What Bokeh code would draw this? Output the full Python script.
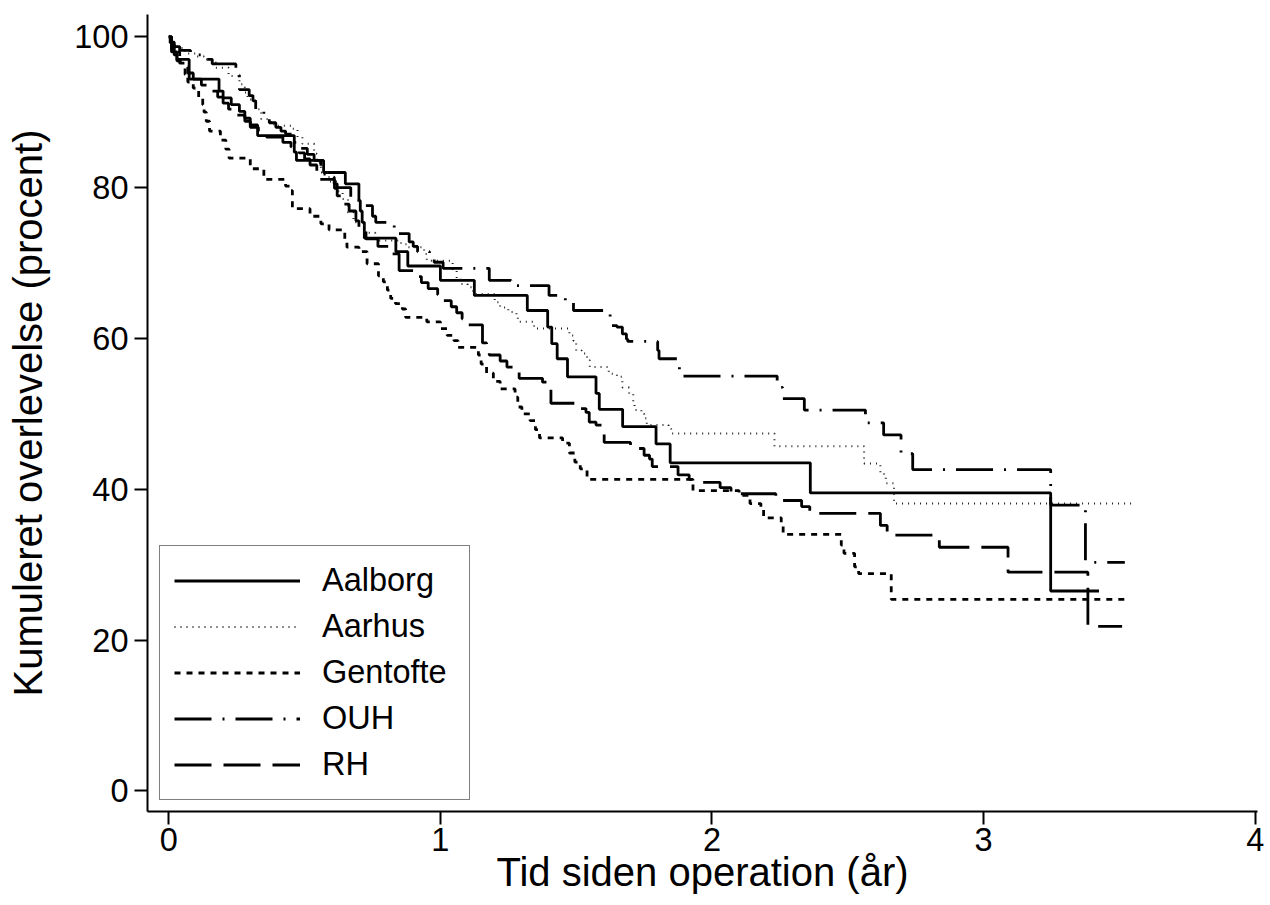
from bokeh.plotting import figure
from bokeh.models import Range1d, FixedTicker
from bokeh.embed import file_html
from bokeh.resources import INLINE

# ---------------- data ----------------
x_ticks = [0, 1, 2, 3, 4]
y_ticks = [0, 20, 40, 60, 80, 100]
x_title = "Tid siden operation (år)"
y_title = "Kumuleret overlevelse (procent)"
series_names = ["Aalborg", "Aarhus", "Gentofte", "OUH", "RH"]

aalborg_t = [0, 0.01, 0.03, 0.075, 0.185, 0.20, 0.23, 0.26, 0.28, 0.30,
             0.327, 0.462, 0.47, 0.57, 0.65, 0.70, 0.705, 0.712, 0.72, 0.836,
             0.88, 1.0, 1.125, 1.32, 1.395, 1.41, 1.43, 1.468, 1.573, 1.585,
             1.671, 1.794, 1.846, 2.362, 3.247, 3.425]
aalborg_s = [100, 98.0, 97.0, 94.4, 92.8, 91.9, 91.0, 90.1, 89.2, 88.3,
             86.9, 84.7, 83.6, 82.0, 80.5, 78.3, 76.9, 75.4, 73.3, 71.5,
             69.6, 67.7, 65.7, 63.7, 61.5, 59.3, 57.3, 54.9, 52.7, 50.6,
             48.3, 46.0, 43.5, 39.5, 26.5, 26.5]

aarhus_t = [0, 0.01, 0.03, 0.06, 0.10, 0.13, 0.173, 0.22, 0.26, 0.28,
            0.29, 0.32, 0.34, 0.375, 0.39, 0.455, 0.474, 0.492, 0.535, 0.545,
            0.56, 0.59, 0.62, 0.64, 0.66, 0.68, 0.695, 0.72, 0.76, 0.855,
            0.88, 0.94, 0.95, 1.045, 1.06, 1.075, 1.10, 1.12, 1.20, 1.22,
            1.25, 1.28, 1.285, 1.345, 1.475, 1.49, 1.50, 1.52, 1.54, 1.55,
            1.62, 1.65, 1.67, 1.695, 1.71, 1.715, 1.74, 1.75, 1.76, 1.84,
            1.85, 2.23, 2.56, 2.62, 2.64, 2.67, 3.555]
aarhus_s = [100, 99.0, 98.5, 97.8, 97.4, 97.0, 95.9, 94.8, 93.7, 92.6,
            91.7, 90.4, 89.1, 88.4, 88.2, 87.8, 86.7, 85.8, 84.5, 83.3,
            82.0, 80.8, 79.5, 78.5, 76.7, 75.4, 75.0, 74.0, 73.0, 72.5,
            72.1, 71.2, 70.3, 69.0, 68.0, 67.2, 66.8, 65.9, 64.8, 64.1,
            63.5, 63.0, 62.2, 61.3, 60.4, 59.7, 58.4, 58.0, 57.1, 56.2,
            55.3, 54.9, 53.5, 52.7, 51.3, 50.5, 50.0, 49.4, 48.5, 48.0,
            47.4, 45.7, 43.4, 42.0, 40.8, 38.1, 38.1]

gentofte_t = [0, 0.01, 0.02, 0.04, 0.06, 0.07, 0.09, 0.11, 0.125, 0.13,
              0.138, 0.15, 0.19, 0.21, 0.222, 0.30, 0.35, 0.43, 0.445, 0.455,
              0.52, 0.56, 0.59, 0.648, 0.656, 0.70, 0.73, 0.772, 0.79, 0.805,
              0.817, 0.835, 0.86, 0.872, 0.95, 1.0, 1.025, 1.05, 1.065, 1.14,
              1.15, 1.17, 1.195, 1.22, 1.275, 1.285, 1.30, 1.33, 1.35, 1.365,
              1.45, 1.475, 1.495, 1.515, 1.54, 1.93, 2.10, 2.14, 2.18, 2.19,
              2.255, 2.262, 2.476, 2.486, 2.525, 2.54, 2.66, 3.53]
gentofte_s = [100, 99.0, 98.0, 96.5, 95.0, 94.0, 93.2, 92.0, 91.0, 90.0,
              88.8, 87.5, 86.3, 85.1, 83.9, 82.5, 81.1, 80.2, 79.6, 77.2,
              76.2, 75.2, 74.4, 73.2, 72.1, 71.5, 69.9, 68.3, 67.5, 66.4,
              65.3, 64.6, 63.9, 62.8, 62.2, 61.3, 60.4, 59.7, 58.8, 57.8,
              56.6, 55.4, 54.3, 53.3, 52.2, 50.9, 50.0, 49.1, 47.9, 46.8,
              46.1, 44.8, 43.6, 42.7, 41.3, 39.8, 39.2, 38.1, 37.3, 36.2,
              35.4, 34.0, 32.6, 31.5, 29.7, 28.8, 25.4, 25.4]

ouh_t = [0, 0.01, 0.02, 0.04, 0.08, 0.12, 0.16, 0.247, 0.26, 0.296,
         0.31, 0.32, 0.35, 0.37, 0.394, 0.413, 0.43, 0.46, 0.48, 0.51,
         0.535, 0.56, 0.566, 0.585, 0.609, 0.62, 0.67, 0.70, 0.75, 0.762,
         0.83, 0.885, 0.90, 0.916, 0.96, 0.977, 1.01, 1.18, 1.26, 1.40,
         1.46, 1.49, 1.625, 1.63, 1.65, 1.67, 1.685, 1.69, 1.80, 1.805,
         1.875, 1.88, 2.24, 2.26, 2.34, 2.565, 2.632, 2.696, 2.739, 3.247,
         3.375, 3.52]
ouh_s = [100, 99.3, 98.7, 98.2, 97.6, 97.0, 96.4, 94.9, 93.0, 92.2,
         91.5, 90.4, 89.5, 88.6, 88.0, 87.5, 87.1, 86.0, 85.2, 84.4,
         83.6, 82.7, 81.8, 81.4, 80.5, 80.0, 78.7, 77.6, 76.2, 75.4,
         73.9, 72.8, 72.2, 71.5, 70.7, 70.1, 69.3, 67.7, 67.0, 65.7,
         64.8, 63.7, 62.8, 61.7, 61.5, 60.6, 59.9, 59.6, 58.4, 57.3,
         56.4, 55.0, 53.5, 52.0, 50.5, 48.8, 47.2, 44.7, 42.6, 37.9,
         30.3, 30.3]

rh_t = [0, 0.005, 0.01, 0.02, 0.03, 0.05, 0.07, 0.09, 0.12, 0.15,
        0.18, 0.20, 0.22, 0.25, 0.28, 0.30, 0.33, 0.36, 0.42, 0.45,
        0.48, 0.50, 0.52, 0.545, 0.61, 0.62, 0.64, 0.664, 0.689, 0.70,
        0.726, 0.77, 0.818, 0.848, 0.91, 0.93, 0.955, 0.99, 1.01, 1.04,
        1.06, 1.08, 1.10, 1.155, 1.17, 1.18, 1.22, 1.245, 1.278, 1.29,
        1.376, 1.395, 1.407, 1.50, 1.536, 1.548, 1.573, 1.597, 1.603, 1.70,
        1.75, 1.77, 1.78, 1.875, 1.916, 1.93, 2.03, 2.07, 2.235, 2.33,
        2.36, 2.62, 2.645, 2.837, 3.09, 3.384, 3.51]
rh_s = [100, 99.2, 98.4, 97.6, 96.8, 96.0, 95.2, 94.4, 93.6, 92.8,
        92.0, 91.2, 90.4, 89.6, 88.8, 88.0, 87.2, 86.7, 86.0, 85.4,
        84.6, 83.8, 83.0, 81.1, 79.9, 78.9, 77.8, 76.9, 75.6, 74.7,
        73.2, 72.2, 71.2, 69.0, 68.2, 67.4, 66.6, 65.8, 65.0, 64.2,
        63.4, 62.6, 61.8, 59.4, 58.6, 57.8, 57.0, 56.2, 55.5, 54.7,
        54.2, 53.3, 51.4, 50.7, 50.2, 48.9, 48.5, 47.6, 46.2, 45.4,
        44.5, 44.0, 43.0, 41.9, 41.3, 40.9, 40.2, 39.4, 38.5, 37.7,
        36.8, 35.2, 33.9, 32.3, 29.0, 21.8, 21.8]

# ---------------- figure ----------------
FONT = "Liberation Sans"
X_MIN, X_MAX = -0.0784, 4.0085
Y_MIN, Y_MAX = -2.745, 102.958

p = figure(width=1270, height=905,
           x_range=Range1d(X_MIN, X_MAX), y_range=Range1d(Y_MIN, Y_MAX),
           output_backend="svg", toolbar_location=None,
           min_border_left=147, min_border_right=13,
           min_border_top=14, min_border_bottom=94)
p.outline_line_color = None
p.xgrid.visible = False
p.ygrid.visible = False
p.background_fill_color = "white"
p.border_fill_color = "white"

styles = [
    dict(line_width=2.8),
    dict(line_width=2.0, line_dash="1 5", line_color="#222222"),
    dict(line_width=2.8, line_dash="6 6"),
    dict(line_width=2.8, line_dash="37 11 2 11"),
    dict(line_width=2.8, line_dash="37 12"),
]
data = [(aalborg_t, aalborg_s), (aarhus_t, aarhus_s), (gentofte_t, gentofte_s),
        (ouh_t, ouh_s), (rh_t, rh_s)]

for name, (t, s), st in zip(series_names, data, styles):
    kw = dict(line_color="black")
    kw.update(st)
    p.step(t, s, mode="after", legend_label=name, **kw)

# axes
for ax in (p.xaxis[0], p.yaxis[0]):
    ax.axis_line_width = 2
    ax.axis_line_color = "black"
    ax.major_tick_line_width = 2
    ax.major_tick_line_color = "black"
    ax.minor_tick_line_color = None
    ax.major_tick_in = 0
    ax.major_tick_out = 13
    ax.major_label_text_font = FONT
    ax.major_label_text_font_size = "32.5px"
    ax.major_label_text_color = "black"
    ax.axis_label_text_font = FONT
    ax.axis_label_text_font_size = "40px"
    ax.axis_label_text_font_style = "normal"
    ax.axis_label_text_color = "black"

p.xaxis.ticker = FixedTicker(ticks=x_ticks)
p.xaxis.major_label_standoff = 3
p.xaxis.axis_label = x_title
p.xaxis.axis_label_standoff = -4

p.yaxis.ticker = FixedTicker(ticks=y_ticks)
p.yaxis.major_label_standoff = 6
p.yaxis.axis_label = y_title
p.yaxis.axis_label_standoff = 21

# legend
leg = p.legend[0]
leg.location = (12, 11)
leg.margin = 0
leg.padding = 14
leg.spacing = 5
leg.glyph_width = 126
leg.glyph_height = 41
leg.label_height = 41
leg.label_width = 133
leg.label_standoff = 22
leg.label_text_font = FONT
leg.label_text_font_size = "32.5px"
leg.label_text_color = "black"
leg.border_line_color = "black"
leg.border_line_width = 1.5
leg.background_fill_color = "white"
leg.background_fill_alpha = 1.0

open("out.html", "w").write(file_html(p, INLINE))
